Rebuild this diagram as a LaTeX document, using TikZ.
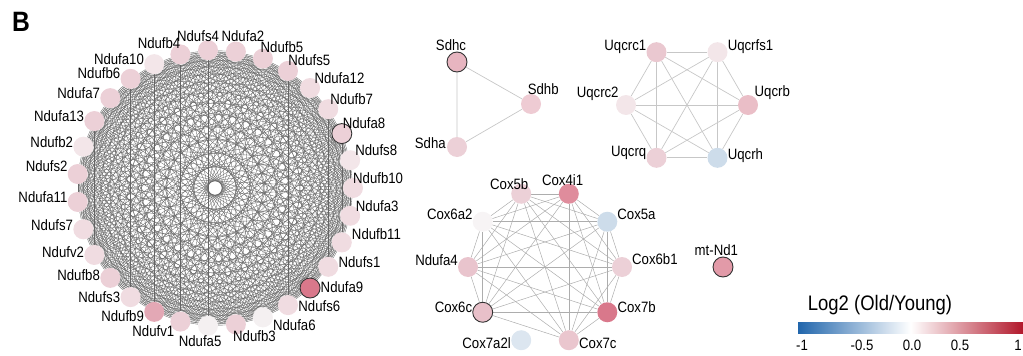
\documentclass[tikz,border=0pt]{standalone}
\usepackage{fontspec}
\setmainfont{Liberation Sans}[FakeStretch=0.88]
\usetikzlibrary{backgrounds}
\definecolor{wh}{HTML}{F4F0F1}
\definecolor{pk0}{HTML}{F3E6E9}
\definecolor{pk1}{HTML}{F0DCE1}
\definecolor{pk2}{HTML}{ECD0D7}
\definecolor{pk3}{HTML}{E3A8B5}
\definecolor{rd}{HTML}{D9788B}
\definecolor{bl}{HTML}{CDDCEA}
\definecolor{lowblue}{HTML}{2166AC}
\definecolor{highred}{HTML}{B2182B}
\tikzset{
  gene/.style={circle, minimum size=20pt, inner sep=0pt},
  rim/.style={draw=black!80, line width=0.9pt},
  plain/.style={},
  every label/.style={font=\fontsize{15}{17}\selectfont, inner sep=1pt},
  mesh/.style={draw=black!60, line width=0.33pt},
  link/.style={draw=black!22, line width=0.7pt},
  tick/.style={font=\fontsize{15}{17}\selectfont, inner sep=0pt}
}
\begin{document}
\begin{tikzpicture}[x=1pt,y=1pt]
\useasboundingbox (0,0) rectangle (1023,-356);
\node[font=\fontsize{28}{28}\selectfont\bfseries] (tag) at (21,-22) {B};
\begin{scope}[shift={(215,-188)}]
\foreach \nm/\col/\bd/\phi [count=\k from 0] in {Ndufb10/pk1/plain/22, Ndufs8/pk0/plain/21, Ndufa8/pk2/rim/26, Ndufb7/pk1/plain/24, Ndufa12/pk1/plain/18, Ndufs5/pk2/plain/27, Ndufb5/pk2/plain/31, Ndufa2/pk2/plain/65, Ndufs4/pk2/plain/125, Ndufb4/pk2/plain/153, Ndufa10/pk0/plain/172, Ndufb6/pk2/plain/170, Ndufa7/pk2/plain/171, Ndufa13/pk2/plain/172, Ndufb2/pk0/plain/171, Ndufs2/pk2/plain/166, Ndufa11/pk2/plain/172, Ndufs7/pk1/plain/173, Ndufv2/pk1/plain/175, Ndufb8/pk2/plain/175, Ndufs3/pk1/plain/180, Ndufb9/pk3/plain/187, Ndufv1/pk2/plain/200, Ndufa5/wh/plain/242, Ndufb3/pk2/plain/328, Ndufa6/wh/plain/347, Ndufs6/pk1/plain/358, Ndufa9/rd/rim/2, Ndufs1/pk1/plain/8, Ndufb11/pk1/plain/13, Ndufa3/pk1/plain/20}{
  \pgfmathsetmacro\ang{\k*360/31}
  \pgfmathsetmacro\opp{\phi+180}
  \node[gene, fill=\col, \bd, label={[anchor=\opp, label distance=-1pt]\phi:\nm}] (n\k) at (\ang:138) {};
}
\begin{scope}[on background layer]
\foreach \i in {0,...,29}{
  \pgfmathtruncatemacro\start{\i+1}
  \foreach \j in {\start,...,30} \draw[mesh] (n\i) -- (n\j);
}
\end{scope}
\end{scope}

\node[gene, fill=pk3!85, rim, label={[anchor=290]110:Sdhc}] (Sdhc) at (457,-62) {};
\node[gene, fill=pk3!60, label={[anchor=230]50:Sdhb}] (Sdhb) at (531,-104) {};
\node[gene, fill=pk2, label={[anchor=351]171:Sdha}] (Sdha) at (457,-147) {};
\begin{scope}[on background layer]
\draw[link] (Sdhc) -- (Sdhb) -- (Sdha) -- (Sdhc);
\end{scope}

\begin{scope}[shift={(687,-105)}]
\foreach \nm/\col/\phi [count=\k from 0] in {Uqcrb/pk3!75/27, Uqcrfs1/pk0/10, Uqcrc1/pk2!80!pk3/170, Uqcrc2/pk0/158, Uqcrq/pk2/170, Uqcrh/bl/5}{
  \pgfmathsetmacro\opp{\phi+180}
  \node[gene, fill=\col, label={[anchor=\opp, label distance=-1pt]\phi:\nm}] (\nm) at (\k*60:61) {};
}
\end{scope}
\begin{scope}[on background layer]
\foreach \a [count=\i] in {Uqcrb,Uqcrfs1,Uqcrc1,Uqcrc2,Uqcrq,Uqcrh}
  \foreach \b [count=\j] in {Uqcrb,Uqcrfs1,Uqcrc1,Uqcrc2,Uqcrq,Uqcrh}
    {\ifnum\j>\i \draw[link] (\a) -- (\b); \fi}
\end{scope}

\begin{scope}[shift={(545,-267)}]
\foreach \nm/\col/\bd/\phi/\dist [count=\k from 0] in {Cox6b1/pk2/plain/13/-1, Cox5a/bl/plain/15/-1, Cox4i1/rd!85/plain/115/-3, Cox5b/pk2/plain/140/-5, Cox6a2/wh!70!white/plain/168/-1, Ndufa4/pk2!70!pk3/plain/167/-1, Cox6c/pk2!60!pk3/rim/171/-1, Cox7a2l/bl!70!white/plain/184/-1, Cox7c/pk2!75!pk3/plain/354/-1, Cox7b/rd/plain/10/-1}{
  \pgfmathsetmacro\opp{\phi+180}
  \node[gene, fill=\col, \bd, label={[anchor=\opp, label distance=\dist pt]\phi:\nm}] (\nm) at (\k*36:77) {};
}
\end{scope}
\begin{scope}[on background layer]
\foreach \a [count=\i] in {Cox6b1,Cox5a,Cox4i1,Cox5b,Cox6a2,Ndufa4,Cox6c,Cox7c,Cox7b}
  \foreach \b [count=\j] in {Cox6b1,Cox5a,Cox4i1,Cox5b,Cox6a2,Ndufa4,Cox6c,Cox7c,Cox7b}
    {\ifnum\j>\i \draw[link, draw=black!32, line width=0.5pt] (\a) -- (\b); \fi}
\end{scope}

\node[gene, fill=rd!75, rim, label={[anchor=292, label distance=0pt]112:mt-Nd1}] (mtNd1) at (723,-267) {};

\node[font=\fontsize{21}{23}\selectfont] (title) at (880,-305) {Log2 (Old/Young)};
\shade[left color=lowblue, right color=highred, middle color=white] (798,-322) rectangle (1023,-333);
\node[tick] (t1) at (802,-345) {-1};
\node[tick] (t2) at (862,-345) {-0.5};
\node[tick] (t3) at (912,-345) {0.0};
\node[tick] (t4) at (960,-345) {0.5};
\node[tick] (t5) at (1018,-345) {1};
\end{tikzpicture}
\end{document}
